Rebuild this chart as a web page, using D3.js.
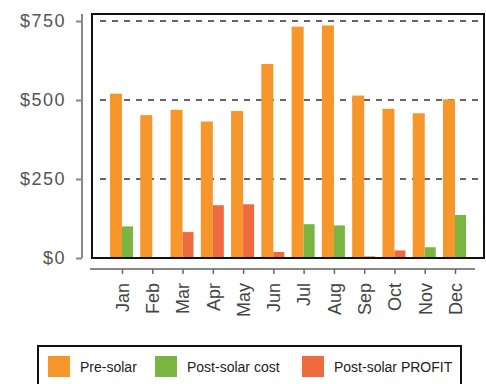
<!DOCTYPE html>
<html><head><meta charset="utf-8">
<script src="https://cdn.jsdelivr.net/npm/d3@7"></script>
<style>html,body{margin:0;padding:0;background:#fff;}svg{display:block;}</style>
</head><body>
<script>
const months = ["Jan","Feb","Mar","Apr","May","Jun","Jul","Aug","Sep","Oct","Nov","Dec"];
const preSolar = [520,452,469,432,465,614,732,736,514,472,458,502];
const postSolarCost = [100,0,0,0,0,0,107,103,0,0,34,136];
const postSolarProfit = [0,0,82,167,170,19,0,0,5,24,0,0];
const yTicks = [0,250,500,750];
const yTickLabels = ["$0","$250","$500","$750"];
const legendLabels = ["Pre-solar","Post-solar cost","Post-solar PROFIT"];
const colors = {pre:"#f7962a", cost:"#7ab542", profit:"#f06a3f"};

const W=486,H=384;
const svg=d3.select("body").append("svg").attr("width",W).attr("height",H);

const y=d3.scaleLinear().domain([0,750]).range([258,21]);
const x=d3.scalePoint().domain(months).range([122,455]);

// frame
svg.append("rect").attr("x",92).attr("y",14).attr("width",392).attr("height",244)
  .attr("fill","none").attr("stroke","#111").attr("stroke-width",2);

// gridlines
svg.append("g").selectAll("line").data(yTicks.filter(d=>d>0)).join("line")
  .attr("x1",100).attr("x2",484).attr("y1",d=>y(d)).attr("y2",d=>y(d))
  .attr("stroke","#333").attr("stroke-width",1.5).attr("stroke-dasharray","6,6");

// bars
const bw=12;
svg.append("g").selectAll("rect").data(months).join("rect")
  .attr("x",d=>x(d)-bw).attr("width",bw)
  .attr("y",(d,i)=>y(preSolar[i])).attr("height",(d,i)=>y(0)-y(preSolar[i]))
  .attr("fill",colors.pre);
svg.append("g").selectAll("rect").data(months).join("rect")
  .attr("x",d=>x(d)).attr("width",bw-1)
  .attr("y",(d,i)=>y(postSolarCost[i])).attr("height",(d,i)=>y(0)-y(postSolarCost[i]))
  .attr("fill",colors.cost);
svg.append("g").selectAll("rect").data(months).join("rect")
  .attr("x",d=>x(d)).attr("width",bw-1)
  .attr("y",(d,i)=>y(postSolarProfit[i])).attr("height",(d,i)=>y(0)-y(postSolarProfit[i]))
  .attr("fill",colors.profit);

// redraw frame bottom on top
svg.append("line").attr("x1",92).attr("x2",484).attr("y1",258).attr("y2",258)
  .attr("stroke","#111").attr("stroke-width",2);

// y axis
const yAxis=d3.axisLeft(y).tickValues(yTicks).tickFormat((d,i)=>yTickLabels[i]).tickSize(6).tickPadding(10);
const yg=svg.append("g").attr("transform","translate(82,0)").call(yAxis);
yg.select(".domain").attr("d","M0,14V258").attr("stroke","#888").attr("stroke-width",2);
yg.selectAll(".tick line").attr("stroke","#888").attr("stroke-width",2);
yg.selectAll("text").attr("font-family","Liberation Sans, Arial, sans-serif").attr("font-size",18)
  .attr("fill","#555").attr("letter-spacing","1.5px");

// x axis
const xAxis=d3.axisBottom(x).tickSize(5).tickPadding(8);
const xg=svg.append("g").attr("transform","translate(0,269)").call(xAxis);
xg.select(".domain").attr("d","M90,0H475").attr("stroke","#888").attr("stroke-width",2);
xg.selectAll(".tick line").attr("stroke","#666").attr("stroke-width",1.5);
xg.selectAll("text").attr("font-family","Liberation Sans, Arial, sans-serif").attr("font-size",18)
  .attr("fill","#444").attr("transform","rotate(-90)").attr("text-anchor","end")
  .attr("x",-14).attr("y",0).attr("dy","0.35em");

// legend
svg.append("rect").attr("x",38).attr("y",346).attr("width",423).attr("height",44)
  .attr("fill","#fff").attr("stroke","#111").attr("stroke-width",2);
const legX=[48,155,302];
const legColors=[colors.pre,colors.cost,colors.profit];
const lg=svg.append("g").selectAll("g").data(legendLabels).join("g");
lg.append("rect").attr("x",(d,i)=>legX[i]).attr("y",356).attr("width",22).attr("height",21)
  .attr("fill",(d,i)=>legColors[i]);
lg.append("text").attr("x",(d,i)=>legX[i]+32).attr("y",372).text(d=>d)
  .attr("font-family","Liberation Sans, Arial, sans-serif").attr("font-size",14).attr("fill","#222");
</script>
</body></html>
